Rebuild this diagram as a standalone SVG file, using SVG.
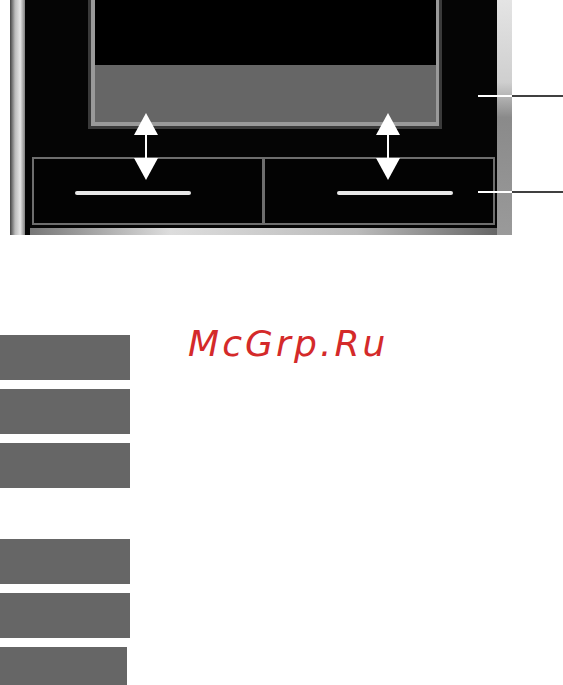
<svg xmlns="http://www.w3.org/2000/svg" width="563" height="685" viewBox="0 0 563 685">
<style>
.tab{fill:#666666}
.bar{stroke:#e8e8e8;stroke-width:4;stroke-linecap:round}
.lead{stroke:#000;stroke-width:1.5}
.leadw{stroke:#fff;stroke-width:2}
.shaft{stroke:#fff;stroke-width:2}
.head{fill:#fff}
.wm{font-family:"DejaVu Sans",sans-serif;font-style:italic;font-size:36px;fill:#d42a2a;letter-spacing:3.1px}
</style>
<defs>
<linearGradient id="silL" x1="0" x2="1" y1="0" y2="0">
<stop offset="0" stop-color="#444"/>
<stop offset="0.3" stop-color="#bbb"/>
<stop offset="0.6" stop-color="#e6e6e6"/>
<stop offset="1" stop-color="#555"/>
</linearGradient>
<linearGradient id="silR" x1="0" x2="0" y1="0" y2="1">
<stop offset="0" stop-color="#e4e4e4"/>
<stop offset="0.35" stop-color="#cfcfcf"/>
<stop offset="0.5" stop-color="#8a8a8a"/>
<stop offset="1" stop-color="#9a9a9a"/>
</linearGradient>
<linearGradient id="strip" x1="0" x2="1" y1="0" y2="0">
<stop offset="0" stop-color="#777"/>
<stop offset="0.3" stop-color="#ddd"/>
<stop offset="0.7" stop-color="#bbb"/>
<stop offset="1" stop-color="#666"/>
</linearGradient>
</defs>
<rect width="563" height="685" fill="#fff"/>
<g id="phone">
<rect x="10" y="0" width="17" height="235" fill="url(#silL)"/>
<rect x="494" y="0" width="18" height="235" fill="url(#silR)"/>
<rect x="25" y="0" width="472" height="235" fill="#050505"/>
<rect x="30" y="228" width="467" height="7" fill="url(#strip)"/>
</g>
<g id="screen">
<rect x="88" y="-5" width="354" height="134" fill="#3a3a3a"/>
<rect x="91" y="-5" width="348" height="131" fill="#9a9a9a"/>
<rect x="95" y="0" width="341" height="65" fill="#000"/>
<rect x="95" y="65" width="341" height="57" fill="#666"/>
</g>
<g id="key-left">
<rect x="33" y="158" width="230" height="66" fill="#030303" stroke="#6e6e6e" stroke-width="2"/>
<line class="bar" x1="77" y1="193" x2="189" y2="193"/>
</g>
<g id="key-right">
<rect x="264" y="158" width="230" height="66" fill="#030303" stroke="#6e6e6e" stroke-width="2"/>
<line class="bar" x1="339" y1="193" x2="451" y2="193"/>
</g>
<g id="connectors">
<line class="shaft" x1="146" y1="130" x2="146" y2="162"/>
<polygon class="head" points="146,113 134,135 158,135"/>
<polygon class="head" points="146,180 134,158 158,158"/>
<line class="shaft" x1="388" y1="130" x2="388" y2="162"/>
<polygon class="head" points="388,113 376,135 400,135"/>
<polygon class="head" points="388,180 376,158 400,158"/>
<line class="leadw" x1="478" y1="96" x2="512" y2="96"/>
<line class="lead" x1="512" y1="96" x2="563" y2="96"/>
<line class="leadw" x1="478" y1="192" x2="512" y2="192"/>
<line class="lead" x1="512" y1="192" x2="563" y2="192"/>
</g>
<g id="tabs">
<rect class="tab" x="0" y="335" width="130" height="45"/>
<rect class="tab" x="0" y="389" width="130" height="45"/>
<rect class="tab" x="0" y="443" width="130" height="45"/>
<rect class="tab" x="0" y="539" width="130" height="45"/>
<rect class="tab" x="0" y="593" width="130" height="45"/>
<rect class="tab" x="0" y="647" width="127" height="38"/>
</g>
<text class="wm" x="188" y="356">McGrp.Ru</text>
</svg>
